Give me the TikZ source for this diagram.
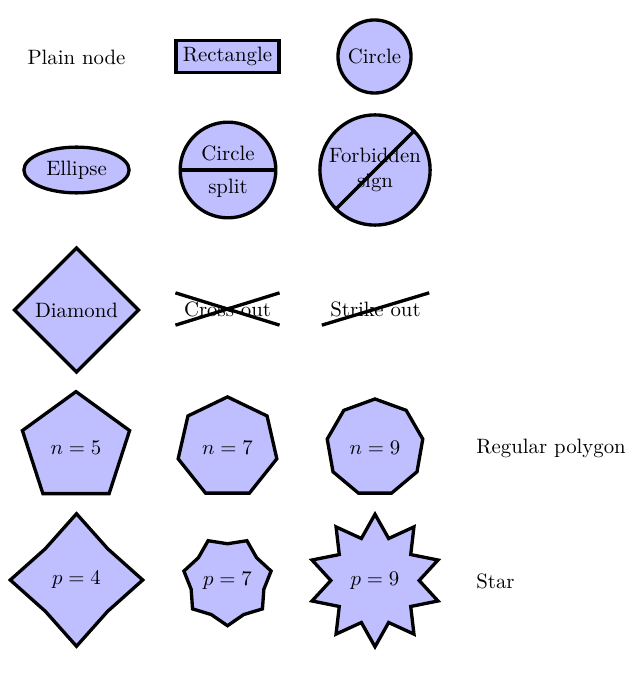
\documentclass[tikz,border=0pt]{standalone}
\usetikzlibrary{shapes.geometric,shapes.multipart,shapes.misc,shapes.symbols}

\begin{document}
\begin{tikzpicture}[x=0.4808pt,y=0.4808pt,yscale=-1,xscale=1,
  filled/.style={ultra thick,draw=black,fill=blue!25},
  crossed/.style={ultra thick,draw=black}]
\useasboundingbox (0,0) rectangle (640,692); %set diagram size to 640 x 692

% Row 1
\draw (76.5,57.5) node (plain) {Plain node};
\draw (227.5,56.5) node [filled,rectangle] (rect) {Rectangle};
\draw (374.5,56.5) node [filled,circle] (circ) {Circle};

% Row 2
\draw (76.5,170) node [filled,ellipse] (ell) {Ellipse};
\draw (228,170) node [filled,circle split] (csplit) {Circle \nodepart{lower} split};
\draw (375,170) node [filled,forbidden sign,align=center,inner sep=1pt,minimum size=53pt] (forb) {Forbidden\\sign};

% Row 3
\draw (76.5,310) node [filled,diamond] (dia) {Diamond};
\draw (227.5,309) node [crossed,cross out] (cross) {Cross out};
\draw (375.5,309) node [crossed,strike out] (strike) {Strike out};

% Row 4
\draw (76,448) node [filled,regular polygon,regular polygon sides=5,minimum size=51.8pt] (pentagon) {$n=5$};
\draw (227.5,447.5) node [filled,regular polygon,regular polygon sides=7,minimum size=46.8pt] (heptagon) {$n=7$};
\draw (375,447.5) node [filled,regular polygon,regular polygon sides=9,minimum size=44.9pt] (nonagon) {$n=9$};
\draw (469,448) node [anchor=west] (polylabel) {Regular polygon};

% Row 5
\draw (76.5,580) node [filled,star,star points=4,star point ratio=1.5,minimum size=62pt] (starfour) {$p=4$};
\draw (227.5,581) node [filled,star,star points=7,star point ratio=1.2,inner sep=0pt,minimum size=43pt,shape border rotate=180] (starseven) {$p=7$};
\draw (375,580.5) node [filled,star,star points=10,star point ratio=1.5,minimum size=62pt] (starnine) {$p=9$};
\draw (469,581) node [anchor=west] (starlabel) {Star};

\end{tikzpicture}
\end{document}
